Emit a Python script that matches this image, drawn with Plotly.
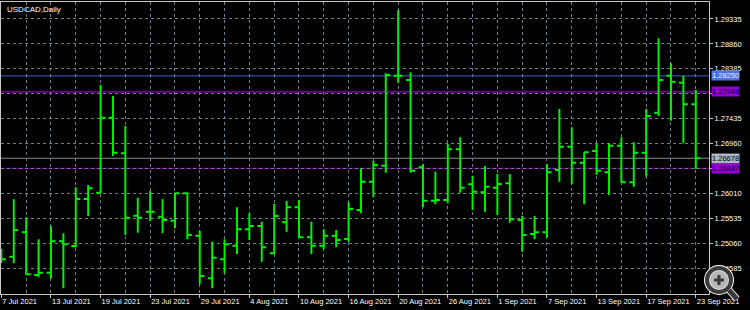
import plotly.graph_objects as go

# ---- data (USDCAD daily) ----
dates = [
    "2021-07-07", "2021-07-08", "2021-07-09", "2021-07-12", "2021-07-13", "2021-07-14",
    "2021-07-15", "2021-07-16", "2021-07-19", "2021-07-20", "2021-07-21", "2021-07-22",
    "2021-07-23", "2021-07-26", "2021-07-27", "2021-07-28", "2021-07-29", "2021-07-30",
    "2021-08-02", "2021-08-03", "2021-08-04", "2021-08-05", "2021-08-06", "2021-08-09",
    "2021-08-10", "2021-08-11", "2021-08-12", "2021-08-13", "2021-08-16", "2021-08-17",
    "2021-08-18", "2021-08-19", "2021-08-20", "2021-08-23", "2021-08-24", "2021-08-25",
    "2021-08-26", "2021-08-27", "2021-08-30", "2021-08-31", "2021-09-01", "2021-09-02",
    "2021-09-03", "2021-09-06", "2021-09-07", "2021-09-08", "2021-09-09", "2021-09-10",
    "2021-09-13", "2021-09-14", "2021-09-15", "2021-09-16", "2021-09-17", "2021-09-20",
    "2021-09-21", "2021-09-22", "2021-09-23",
]
opens = [
    1.24850, 1.24801, 1.25266, 1.24452, 1.24495, 1.25094, 1.25005, 1.25901, 1.26022, 1.27452,
    1.26773, 1.25583, 1.25659, 1.25564, 1.25487, 1.26010, 1.25201, 1.24389, 1.24751, 1.25010,
    1.25323, 1.25386, 1.24865, 1.25457, 1.25743, 1.25171, 1.25010, 1.25201, 1.25138, 1.25691,
    1.26231, 1.26537, 1.28253, 1.28171, 1.26506, 1.25869, 1.25882, 1.26849, 1.26182, 1.26029,
    1.26117, 1.26201, 1.25501, 1.25234, 1.25266, 1.26455, 1.26899, 1.26594, 1.26817, 1.26411,
    1.26918, 1.26220, 1.26785, 1.27548, 1.28253, 1.28120, 1.27708,
]
highs = [
    1.24950, 1.25896, 1.25552, 1.25133, 1.25386, 1.25247, 1.26125, 1.26168, 1.28076, 1.27866,
    1.27294, 1.25926, 1.26054, 1.25896, 1.26022, 1.26022, 1.25297, 1.25087, 1.25133, 1.25743,
    1.25629, 1.25468, 1.25806, 1.25863, 1.25882, 1.25468, 1.25323, 1.25310, 1.25838, 1.26487,
    1.26626, 1.28299, 1.29507, 1.28318, 1.26569, 1.26422, 1.26950, 1.27078, 1.26346, 1.26531,
    1.26378, 1.26378, 1.25583, 1.25577, 1.26563, 1.27618, 1.27269, 1.26792, 1.26950, 1.26964,
    1.27078, 1.26983, 1.27618, 1.28967, 1.28490, 1.28253, 1.27981,
]
lows = [
    1.24680, 1.24675, 1.24452, 1.24408, 1.24381, 1.24198, 1.24980, 1.25577, 1.26010, 1.26722,
    1.25215, 1.25258, 1.25482, 1.25247, 1.25342, 1.25133, 1.24280, 1.24198, 1.24484, 1.24852,
    1.25119, 1.24705, 1.24852, 1.25278, 1.25152, 1.24852, 1.24942, 1.24980, 1.25087, 1.25629,
    1.25934, 1.26403, 1.28120, 1.26403, 1.25743, 1.25800, 1.25819, 1.26022, 1.25691, 1.25659,
    1.25596, 1.25449, 1.24896, 1.25133, 1.25163, 1.26231, 1.26187, 1.25800, 1.26359, 1.25978,
    1.26212, 1.26136, 1.26327, 1.27485, 1.27395, 1.26964, 1.26474,
]
closes = [
    1.24751, 1.25310, 1.24465, 1.24495, 1.25094, 1.25037, 1.25901, 1.26105, 1.27452, 1.26785,
    1.25545, 1.25545, 1.25659, 1.25501, 1.26010, 1.25215, 1.24432, 1.24782, 1.25037, 1.25323,
    1.25386, 1.24980, 1.25577, 1.25743, 1.25171, 1.25010, 1.25201, 1.25119, 1.25711, 1.26231,
    1.26550, 1.28267, 1.28253, 1.26441, 1.25869, 1.25882, 1.26849, 1.26117, 1.26041, 1.26136,
    1.26187, 1.25514, 1.25215, 1.25266, 1.26411, 1.26899, 1.26594, 1.26792, 1.26441, 1.26918,
    1.26220, 1.26785, 1.27485, 1.28171, 1.28139, 1.27708, 1.26678,
]
date_tick_labels = [
    "7 Jul 2021", "13 Jul 2021", "19 Jul 2021", "23 Jul 2021", "29 Jul 2021",
    "4 Aug 2021", "10 Aug 2021", "16 Aug 2021", "20 Aug 2021", "26 Aug 2021",
    "1 Sep 2021", "7 Sep 2021", "13 Sep 2021", "17 Sep 2021", "23 Sep 2021",
]
# price grid ticks; labels hidden behind the line labels in the reference are blank
price_ticks = [1.24585, 1.25060, 1.25535, 1.26010, 1.26485, 1.26960,
               1.27435, 1.27910, 1.28385, 1.28860, 1.29335]
price_tick_labels = ["1.24585", "1.25060", "1.25535", "1.26010", "", "1.26960",
                     "1.27435", "", "1.28385", "1.28860", "1.29335"]
# horizontal price lines
level_prices = [1.28250, 1.27948, 1.26678, 1.26487]
level_colors = ["#3b62d6", "#6a0088", "#8a8a8a", "#7a0098"]
level_label_bg = ["#4a74e6", "#9400d3", "#aab4c2", "#9400d3"]
level_label_fg = ["#e8eeff", "#000000", "#000000", "#000000"]
level_widths = [1, 2, 1, 1]

y_range = [1.24089, 1.29659]

# ---- figure ----
idx = list(range(len(dates)))
green = "#00f000"
fig = go.Figure()
fig.add_trace(go.Ohlc(
    x=idx, open=opens, high=highs, low=lows, close=closes,
    increasing=dict(line=dict(color=green, width=2)),
    decreasing=dict(line=dict(color=green, width=2)),
    tickwidth=0.36, hoverinfo="skip", showlegend=False,
))

for p, c, w in zip(level_prices, level_colors, level_widths):
    fig.add_shape(type="line", xref="paper", x0=0, x1=1, yref="y", y0=p, y1=p,
                  line=dict(color=c, width=w), layer="between")

lab_font = "Liberation Sans"
for p, bg, fg in zip(level_prices, level_label_bg, level_label_fg):
    fig.add_annotation(xref="paper", x=1, xanchor="left", xshift=2, yref="y", y=p,
                       text=f"{p:.5f}", showarrow=False, bgcolor=bg, borderpad=0,
                       font=dict(family=lab_font, size=7.5, color=fg))

fig.add_annotation(xref="paper", yref="paper", x=0, y=1, xanchor="left", yanchor="top",
                   xshift=4, yshift=-1, text="USDCAD,Daily", showarrow=False,
                   font=dict(family=lab_font, size=8, color="#ffffff"))

# magnifier watermark in the bottom-right corner (decoration)
for col, w in (("#ffffff", 6), ("#3a3a3a", 4)):
    fig.add_shape(type="line", xref="paper", yref="paper", x0=1.0282, y0=0.0137,
                  x1=1.0395, y1=-0.0171, line=dict(color=col, width=w + 1))
    fig.add_shape(type="circle", xref="paper", yref="paper", x0=0.9972, y0=0.0069,
                  x1=1.0311, y1=0.0890, line=dict(color=col, width=w),
                  fillcolor="rgba(215,215,215,0.85)" if w == 4 else None)
fig.add_shape(type="line", xref="paper", yref="paper", x0=1.0071, y0=0.0479,
              x1=1.0212, y1=0.0479, line=dict(color="#3a3a3a", width=3))
fig.add_shape(type="line", xref="paper", yref="paper", x0=1.0141, y0=0.0308,
              x1=1.0141, y1=0.0651, line=dict(color="#3a3a3a", width=3))

grid_col = "#6f7f90"
n = len(dates)
span = n + 0.097
fig.update_layout(
    width=750, height=310,
    margin=dict(l=1, r=41, t=2, b=16, autoexpand=False),
    paper_bgcolor="#000000", plot_bgcolor="#000000",
    xaxis=dict(
        type="linear", range=[-0.03, -0.03 + span], automargin=False,
        tickvals=idx[::4], ticktext=date_tick_labels, tickangle=0,
        ticks="outside", ticklen=3, tickcolor="#c8c8c8",
        ticklabelposition="outside right",
        tickfont=dict(family=lab_font, size=7.5, color="#ffffff"),
        showgrid=True, gridcolor=grid_col, griddash="3px,3px", gridwidth=1,
        minor=dict(tickvals=idx[2::4], showgrid=True, gridcolor=grid_col,
                   griddash="3px,3px", gridwidth=1, ticks=""),
        showline=True, linecolor="#c8c8c8", linewidth=1, mirror=True,
        zeroline=False, rangeslider=dict(visible=False), fixedrange=True,
    ),
    yaxis=dict(
        side="right", range=y_range, automargin=False,
        tickvals=price_ticks, ticktext=price_tick_labels,
        ticks="outside", ticklen=3, tickcolor="#c8c8c8",
        tickfont=dict(family=lab_font, size=7.5, color="#ffffff"),
        showgrid=True, gridcolor=grid_col, griddash="3px,3px", gridwidth=1,
        showline=True, linecolor="#c8c8c8", linewidth=1, mirror=True,
        zeroline=False, fixedrange=True,
    ),
)

fig.write_html("out.html")
